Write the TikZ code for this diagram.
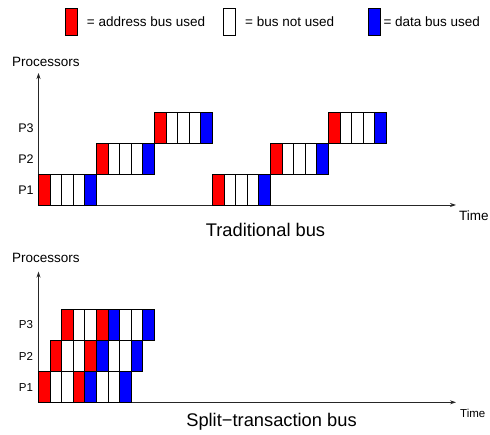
\documentclass[tikz,border=0pt]{standalone}
\usepackage{fontspec}
\setmainfont{Liberation Sans}
\usetikzlibrary{arrows.meta}
\definecolor{addr}{RGB}{255,0,0}
\definecolor{dat}{RGB}{0,0,255}
\begin{document}
\begin{tikzpicture}[x=1pt,y=-1pt,
  cell/.style={draw=black,line width=0.9pt},
  axis/.style={draw=black!85,line width=0.8pt,-{Stealth[length=6pt,width=4pt]}},
  lbl/.style={inner sep=0pt,font=\fontsize{13.5}{16}\selectfont},
  plbl/.style={inner sep=0pt,font=\fontsize{12.5}{15}\selectfont},
  plbls/.style={inner sep=0pt,font=\fontsize{11.5}{14}\selectfont},
  ttl/.style={inner sep=0pt,font=\fontsize{18.3}{22}\selectfont}]
\useasboundingbox (0,0) rectangle (490,435);
% legend
\draw[cell,fill=addr] (65.7,8.3) rectangle (77.7,35);
\node[lbl,anchor=west] (la) at (86.7,22) {= address bus used};
\draw[cell,fill=white] (223.5,8.3) rectangle (235.5,35);
\node[lbl,anchor=west] (lb) at (245,22) {= bus not used};
\draw[cell,fill=dat] (368.3,8.3) rectangle (380.3,35);
\node[lbl,anchor=west] (lc) at (383.3,22) {= data bus used};
% top chart
\coordinate (o1) at (38.5,205);
\coordinate (x1) at (456,205);
\coordinate (y1) at (38.5,73);
\draw[axis] (o1) -- (x1);
\draw[axis] (o1) -- (y1);
\node[lbl,anchor=west] (proc1) at (12,62) {Processors};
\node[lbl,anchor=west] (time1) at (459,216) {Time};
\node[ttl] (t1) at (265.5,230) {Traditional bus};
\node[plbl] (p1a) at (26,190.5) {P1};
\node[plbl] (p2a) at (26,159) {P2};
\node[plbl] (p3a) at (26,128) {P3};
\foreach \row/\start in {0/0,1/5,2/10,0/15,1/20,2/25}
  \foreach \c [count=\i from 0] in {addr,white,white,white,dat}
    \draw[cell,fill=\c] ({38.5+(\start+\i)*11.6},{205-\row*31}) rectangle ++(11.6,-31);
% bottom chart
\coordinate (o2) at (38.5,402.3);
\coordinate (x2) at (456,402.3);
\coordinate (y2) at (38.5,271.7);
\draw[axis] (o2) -- (x2);
\draw[axis] (o2) -- (y2);
\node[lbl,anchor=west] (proc2) at (12,258) {Processors};
\node[plbls,anchor=west] (time2) at (460,413) {Time};
\node[ttl] (t2) at (271.5,422) {Split−transaction bus};
\node[plbls] (p1b) at (26,388) {P1};
\node[plbls] (p2b) at (26,356) {P2};
\node[plbls] (p3b) at (26,325) {P3};
\foreach \row in {0,1,2}
  \foreach \c [count=\i from 0] in {addr,white,white,addr,dat,white,white,dat}
    \draw[cell,fill=\c] ({38.5+(\row+\i)*11.6},{402.3-\row*31}) rectangle ++(11.6,-31);
\end{tikzpicture}
\end{document}
